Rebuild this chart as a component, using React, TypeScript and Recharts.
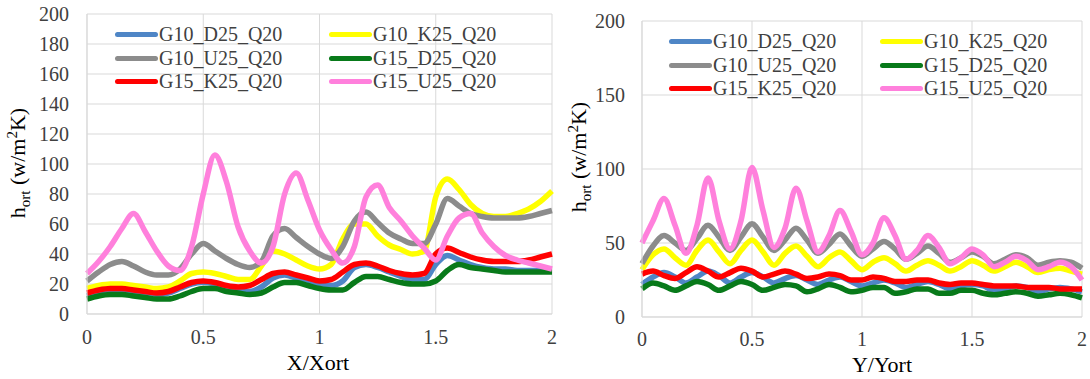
import React from "react";
import { LineChart, Line, XAxis, YAxis, CartesianGrid, Legend } from "recharts";

const FONT = "Liberation Serif";
const TEXT = "#404040";
const GRID = "#d9d9d9";

// x positions (X/Xort and Y/Yort)
const X_POS = [
  0, 0.05, 0.1, 0.15, 0.2, 0.25, 0.3, 0.35, 0.4, 0.45, 0.5, 0.55, 0.6, 0.65, 0.7, 0.75, 0.8, 0.85, 0.9, 0.95, 1,
  1.05, 1.1, 1.15, 1.2, 1.25, 1.3, 1.35, 1.4, 1.45, 1.5, 1.55, 1.6, 1.65, 1.7, 1.75, 1.8, 1.85, 1.9, 1.95, 2,
];
const X_TICKS = [0, 0.5, 1, 1.5, 2];

const SERIES_NAMES = ["G10_D25_Q20", "G10_K25_Q20", "G10_U25_Q20", "G15_D25_Q20", "G15_K25_Q20", "G15_U25_Q20"];
const SERIES_COLORS = ["#4f86c6", "#ffff00", "#8c8c8c", "#087a1a", "#ff0000", "#ff80dc"];

// left chart: h_ort along X/Xort
const LEFT_G10_D25 = [12, 14, 15, 15, 14, 13, 13, 14, 17, 20, 21, 20, 18, 16, 15, 18, 24, 26, 24, 22, 20, 19, 22, 31, 33, 31, 28, 25, 23, 23, 33, 39, 36, 33, 31, 30, 30, 29, 29, 29, 29];
const LEFT_G10_K25 = [17, 19, 20, 20, 19, 18, 17, 18, 22, 27, 28, 27, 25, 23, 23, 32, 42, 40, 36, 32, 30, 33, 50, 60, 60, 52, 46, 43, 40, 42, 78, 90, 83, 73, 67, 65, 65, 67, 70, 75, 82];
const LEFT_G10_U25 = [22, 28, 33, 35, 32, 28, 26, 26, 30, 40, 47, 42, 37, 33, 31, 35, 52, 57, 51, 45, 40, 37, 45, 62, 68, 61, 54, 50, 47, 47, 60, 77, 72, 67, 65, 64, 64, 64, 65, 67, 69];
const LEFT_G15_D25 = [10, 12, 13, 13, 12, 11, 10, 10, 12, 15, 17, 17, 15, 14, 13, 14, 18, 21, 21, 19, 17, 16, 16, 21, 25, 25, 23, 21, 20, 20, 22, 29, 33, 31, 30, 29, 28, 28, 28, 28, 28];
const LEFT_G15_K25 = [14, 16, 17, 17, 16, 15, 14, 15, 18, 21, 22, 21, 19, 18, 19, 23, 27, 28, 26, 24, 22, 23, 28, 33, 34, 32, 29, 27, 26, 27, 40, 44, 41, 38, 36, 35, 35, 35, 36, 38, 40];
const LEFT_G15_U25 = [27, 35, 45, 57, 67, 55, 42, 32, 29, 45, 80, 106, 88, 58, 42, 34, 45, 80, 94, 76, 56, 43, 34, 45, 78, 86, 71, 62, 52, 44, 36, 52, 64, 67, 54, 45, 39, 36, 34, 32, 30];

// right chart: h_ort along Y/Yort
const RIGHT_G10_D25 = [22, 27, 30, 27, 23, 27, 31, 28, 23, 27, 30, 27, 23, 26, 28, 25, 22, 25, 27, 24, 21, 23, 25, 23, 20, 22, 24, 22, 19, 21, 22, 21, 18, 19, 21, 20, 17, 19, 20, 19, 17];
const RIGHT_G10_K25 = [32, 42, 46, 40, 35, 45, 52, 44, 36, 45, 52, 44, 35, 43, 48, 41, 34, 40, 44, 38, 32, 37, 40, 36, 31, 35, 38, 35, 31, 34, 38, 35, 31, 34, 37, 34, 30, 32, 33, 31, 29];
const RIGHT_G10_U25 = [36, 48, 55, 50, 45, 53, 62, 54, 45, 54, 63, 54, 45, 52, 60, 52, 43, 49, 56, 48, 41, 46, 51, 46, 39, 43, 48, 43, 37, 40, 44, 41, 36, 39, 42, 40, 35, 37, 38, 37, 33];
const RIGHT_G15_D25 = [19, 23, 21, 18, 21, 24, 22, 18, 21, 24, 22, 18, 20, 22, 21, 17, 19, 22, 20, 17, 18, 20, 20, 16, 17, 19, 19, 16, 16, 18, 18, 16, 15, 16, 17, 16, 14, 15, 16, 15, 13];
const RIGHT_G15_K25 = [29, 31, 28, 26, 30, 34, 31, 27, 30, 33, 31, 27, 29, 31, 29, 26, 27, 29, 28, 25, 25, 27, 26, 24, 24, 25, 25, 23, 22, 23, 23, 22, 21, 21, 21, 20, 20, 20, 19, 19, 19];
const RIGHT_G15_U25 = [50, 65, 80, 62, 43, 62, 94, 65, 46, 65, 101, 72, 47, 60, 87, 65, 44, 55, 72, 58, 42, 50, 67, 55, 39, 45, 55, 47, 36, 40, 46, 42, 34, 37, 41, 38, 32, 34, 37, 34, 25];

const LEFT_Y_TICKS = [0, 20, 40, 60, 80, 100, 120, 140, 160, 180, 200];
const LEFT_Y_GRID = [0, 10, 20, 30, 40, 50, 60, 70, 80, 90, 100, 110, 120, 130, 140, 150, 160, 170, 180, 190, 200];
const RIGHT_Y_TICKS = [0, 50, 100, 150, 200];

const buildRows = (series: number[][]) =>
  X_POS.map((x, i) => {
    const row: Record<string, number> = { x };
    SERIES_NAMES.forEach((name, s) => {
      row[name] = series[s][i];
    });
    return row;
  });

const leftData = buildRows([LEFT_G10_D25, LEFT_G10_K25, LEFT_G10_U25, LEFT_G15_D25, LEFT_G15_K25, LEFT_G15_U25]);
const rightData = buildRows([RIGHT_G10_D25, RIGHT_G10_K25, RIGHT_G10_U25, RIGHT_G15_D25, RIGHT_G15_K25, RIGHT_G15_U25]);

const XTick = ({ x, y, payload }: any) => (
  <text x={x} y={y} dy={6} textAnchor="middle" style={{ fontFamily: FONT }} fontSize={20} fill={TEXT}>
    {payload.value}
  </text>
);

const YTick = ({ x, y, payload }: any) => (
  <text x={x} y={y} dy={7} textAnchor="end" style={{ fontFamily: FONT }} fontSize={20} fill={TEXT}>
    {payload.value}
  </text>
);

const YTitle = ({ cx, cy }: { cx: number; cy: number }) => (
  <text
    transform={`translate(${cx},${cy}) rotate(-90)`}
    textAnchor="middle"
    style={{ fontFamily: FONT }}
    fontSize={22}
    fill="#000"
  >
    h
    <tspan fontSize={15} dy={5}>ort</tspan>
    <tspan dy={-5}> (w/m</tspan>
    <tspan fontSize={15} dy={-8}>2</tspan>
    <tspan dy={8}>K)</tspan>
  </text>
);

const XTitle = ({ cx, cy, text }: { cx: number; cy: number; text: string }) => (
  <text x={cx} y={cy} dy={8} textAnchor="middle" style={{ fontFamily: FONT }} fontSize={22} fill="#000">
    {text}
  </text>
);

const LegendGrid = ({ payload, colWidth }: any) => (
  <div
    style={{
      display: "grid",
      gridTemplateColumns: `${colWidth}px ${colWidth}px`,
      fontFamily: FONT,
      fontSize: 20,
      lineHeight: "23.5px",
      color: TEXT,
    }}
  >
    {(payload || []).map((p: any) => (
      <div key={p.value} style={{ display: "flex", alignItems: "center", whiteSpace: "nowrap" }}>
        <span
          style={{ display: "inline-block", width: 43, height: 5, borderRadius: 3, background: p.color, marginRight: 1 }}
        />
        <span style={{ fontFamily: FONT }}>{p.value}</span>
      </div>
    ))}
  </div>
);

const renderLines = () =>
  SERIES_NAMES.map((name, i) => (
    <Line
      key={name}
      type="monotone"
      dataKey={name}
      name={name}
      stroke={SERIES_COLORS[i]}
      strokeWidth={5.5}
      strokeLinejoin="round"
      dot={false}
      activeDot={false}
      isAnimationActive={false}
    />
  ));

const LeftChart = () => (
  <LineChart width={560} height={379} data={leftData} margin={{ top: 14, right: 8, bottom: 0, left: 0 }}>
    <CartesianGrid stroke={GRID} horizontalValues={LEFT_Y_GRID} verticalValues={X_TICKS} />
    <XAxis
      dataKey="x"
      type="number"
      domain={[0, 2]}
      ticks={X_TICKS}
      height={65}
      tickLine={false}
      tickSize={0}
      tickMargin={24}
      axisLine={{ stroke: GRID }}
      tick={<XTick />}
      label={{ content: () => <XTitle cx={318} cy={362} text="X/Xort" /> }}
    />
    <YAxis
      type="number"
      domain={[0, 200]}
      ticks={LEFT_Y_TICKS}
      width={87}
      tickLine={false}
      tickSize={0}
      tickMargin={18}
      axisLine={{ stroke: GRID }}
      tick={<YTick />}
      label={{ content: () => <YTitle cx={25} cy={163} /> }}
    />
    <Legend
      layout="horizontal"
      verticalAlign="middle"
      align="center"
      wrapperStyle={{ top: 23, left: 115, width: "auto", fontFamily: FONT }}
      content={(props: any) => <LegendGrid {...props} colWidth={214} />}
    />
    {renderLines()}
  </LineChart>
);

const RightChart = () => (
  <LineChart width={545} height={379} data={rightData} margin={{ top: 21, right: 8, bottom: 0, left: 0 }}>
    <CartesianGrid stroke={GRID} horizontalValues={RIGHT_Y_TICKS} verticalValues={X_TICKS} />
    <XAxis
      dataKey="x"
      type="number"
      domain={[0, 2]}
      ticks={X_TICKS}
      height={62}
      tickLine={false}
      tickSize={0}
      tickMargin={23}
      axisLine={{ stroke: GRID }}
      tick={<XTick />}
      label={{ content: () => <XTitle cx={337} cy={364} text="Y/Yort" /> }}
    />
    <YAxis
      type="number"
      domain={[0, 200]}
      ticks={RIGHT_Y_TICKS}
      width={97}
      tickLine={false}
      tickSize={0}
      tickMargin={17}
      axisLine={{ stroke: GRID }}
      tick={<YTick />}
      label={{ content: () => <YTitle cx={41} cy={157} /> }}
    />
    <Legend
      layout="horizontal"
      verticalAlign="middle"
      align="center"
      wrapperStyle={{ top: 30, left: 124, width: "auto", fontFamily: FONT }}
      content={(props: any) => <LegendGrid {...props} colWidth={211} />}
    />
    {renderLines()}
  </LineChart>
);

export default function App() {
  return (
    <div
      style={{ position: "absolute", left: 0, top: 0, width: 1090, height: 379, background: "#fff", fontFamily: FONT }}
    >
      <div style={{ position: "absolute", left: 0, top: 0 }}>
        <LeftChart />
      </div>
      <div style={{ position: "absolute", left: 545, top: 0 }}>
        <RightChart />
      </div>
    </div>
  );
}
